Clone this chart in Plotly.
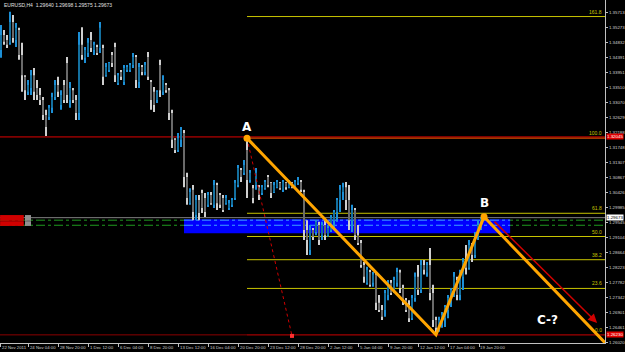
import plotly.graph_objects as go

symbol_text = "EURUSD,H4  1.29640 1.29698 1.29575 1.29673"

opens = [1.3460,1.3504,1.3489,1.3481,1.3542,1.3489,1.3519,1.3445,1.3381,1.3337,
         1.3348,1.3386,1.3348,1.3328,1.3313,1.3269,1.3263,1.3290,1.3322,1.3357,
         1.3298,1.3357,1.3422,1.3313,1.3342,1.3313,1.3275,1.3475,1.3437,1.3451,
         1.3489,1.3460,1.3469,1.3466,1.3466,1.3386,1.3401,1.3445,1.3469,1.3363,
         1.3395,1.3366,1.3401,1.3401,1.3416,1.3439,1.3366,1.3410,1.3395,1.3439,
         1.3366,1.3337,1.3313,1.3416,1.3337,1.3357,1.3342,1.3275,1.3196,1.3166,
         1.3196,1.3216,1.3087,1.3010,1.3049,1.2975,1.3019,1.3040,1.3025,1.3005,
         1.3034,1.3005,1.3063,1.3034,1.3025,1.3010,1.2996,1.3005,1.3025,1.3063,
         1.3107,1.3099,1.3166,1.3078,1.3054,1.3063,1.3057,1.3040,1.3054,1.3087,
         1.3070,1.3043,1.3057,1.3070,1.3049,1.3070,1.3057,1.3070,1.3057,1.3070,
         1.3072,1.3043,1.2931,1.2872,1.2931,1.2925,1.2946,1.2916,1.2946,1.2916,
         1.2931,1.2960,1.2984,1.3019,1.3043,1.3057,1.3019,1.2960,1.2990,1.2916,
         1.2893,1.2828,1.2776,1.2808,1.2776,1.2800,1.2717,1.2696,1.2696,1.2740,
         1.2776,1.2755,1.2776,1.2806,1.2761,1.2725,1.2711,1.2672,1.2731,1.2794,
         1.2755,1.2828,1.2806,1.2828,1.2746,1.2667,1.2637,1.2661,1.2672,1.2696,
         1.2725,1.2755,1.2784,1.2740,1.2794,1.2837,1.2820,1.2887,1.2858,1.2911,
         1.2946,1.29640]
highs = [1.3533,1.3519,1.3504,1.3572,1.3563,1.3539,1.3525,1.3481,1.3386,1.3372,
         1.3401,1.3407,1.3372,1.3348,1.3322,1.3284,1.3298,1.3334,1.3372,1.3381,
         1.3342,1.3372,1.3439,1.3366,1.3348,1.3328,1.3513,1.3527,1.3469,1.3495,
         1.3513,1.3484,1.3475,1.3542,1.3475,1.3422,1.3425,1.3454,1.3481,1.3392,
         1.3401,1.3416,1.3416,1.3422,1.3451,1.3445,1.3422,1.3416,1.3425,1.3454,
         1.3372,1.3351,1.3342,1.3431,1.3386,1.3363,1.3348,1.3284,1.3201,1.3216,
         1.3234,1.3225,1.3099,1.3054,1.3063,1.3034,1.3034,1.3049,1.3040,1.3043,
         1.3043,1.3078,1.3070,1.3040,1.3034,1.3034,1.3019,1.3025,1.3078,1.3122,
         1.3113,1.3137,1.3201,1.3107,1.3063,1.3113,1.3063,1.3063,1.3078,1.3093,
         1.3072,1.3072,1.3078,1.3072,1.3078,1.3072,1.3078,1.3072,1.3078,1.3087,
         1.3078,1.3049,1.2960,1.2946,1.2937,1.2960,1.2955,1.2955,1.2960,1.2946,
         1.2975,1.2990,1.3025,1.3063,1.3070,1.3072,1.3063,1.3005,1.2996,1.2946,
         1.2902,1.2837,1.2823,1.2814,1.2808,1.2806,1.2740,1.2711,1.2755,1.2784,
         1.2784,1.2794,1.2820,1.2814,1.2770,1.2731,1.2725,1.2740,1.2806,1.2828,
         1.2843,1.2843,1.2837,1.2878,1.2770,1.2676,1.2676,1.2690,1.2711,1.2740,
         1.2761,1.2808,1.2794,1.2814,1.2849,1.2887,1.2902,1.2893,1.2925,1.2960,
         1.2969,1.29698]
lows = [1.3437,1.3475,1.3466,1.3475,1.3481,1.3469,1.3431,1.3337,1.3313,1.3328,
        1.3328,1.3313,1.3313,1.3298,1.3254,1.3207,1.3254,1.3275,1.3313,1.3322,
        1.3284,1.3304,1.3304,1.3290,1.3304,1.3254,1.3254,1.3431,1.3422,1.3439,
        1.3454,1.3445,1.3445,1.3451,1.3357,1.3381,1.3395,1.3410,1.3366,1.3357,
        1.3372,1.3357,1.3395,1.3395,1.3407,1.3348,1.3348,1.3386,1.3386,1.3372,
        1.3284,1.3278,1.3304,1.3322,1.3328,1.3334,1.3254,1.3172,1.3157,1.3160,
        1.3175,1.3057,1.3005,1.3005,1.2960,1.2960,1.2960,1.2981,1.2969,1.2999,
        1.3005,1.2996,1.2990,1.2996,1.2984,1.3005,1.2990,1.2999,1.3019,1.3057,
        1.3072,1.3093,1.3025,1.3070,1.3010,1.3049,1.3019,1.3034,1.3049,1.3057,
        1.3025,1.3040,1.3054,1.3049,1.3043,1.3049,1.3054,1.3054,1.3054,1.3063,
        1.3043,1.2902,1.2858,1.2858,1.2902,1.2916,1.2887,1.2902,1.2902,1.2911,
        1.2925,1.2937,1.2955,1.2984,1.3019,1.2990,1.2931,1.2925,1.2902,1.2887,
        1.2820,1.2776,1.2770,1.2764,1.2764,1.2696,1.2690,1.2667,1.2676,1.2725,
        1.2740,1.2746,1.2764,1.2746,1.2711,1.2690,1.2661,1.2667,1.2720,1.2740,
        1.2746,1.2800,1.2794,1.2725,1.2646,1.2623,1.2632,1.2644,1.2646,1.2672,
        1.2705,1.2734,1.2725,1.2725,1.2755,1.2800,1.2814,1.2837,1.2849,1.2902,
        1.2931,1.29575]
closes = [1.3504,1.3484,1.3475,1.3542,1.3495,1.3525,1.3445,1.3386,1.3342,1.3357,
          1.3386,1.3337,1.3328,1.3313,1.3269,1.3234,1.3290,1.3322,1.3357,1.3337,
          1.3328,1.3313,1.3328,1.3348,1.3313,1.3275,1.3475,1.3445,1.3460,1.3481,
          1.3466,1.3475,1.3451,1.3525,1.3381,1.3410,1.3422,1.3422,1.3386,1.3386,
          1.3381,1.3407,1.3410,1.3416,1.3439,1.3372,1.3410,1.3395,1.3416,1.3381,
          1.3313,1.3298,1.3337,1.3342,1.3372,1.3342,1.3275,1.3196,1.3166,1.3201,
          1.3225,1.3087,1.3025,1.3043,1.2984,1.3019,1.2981,1.2996,1.2984,1.3034,
          1.3010,1.3063,1.3010,1.3005,1.2990,1.3025,1.3010,1.3019,1.3070,1.3113,
          1.3087,1.3122,1.3078,1.3099,1.3025,1.3099,1.3034,1.3057,1.3072,1.3063,
          1.3040,1.3063,1.3072,1.3054,1.3072,1.3057,1.3072,1.3057,1.3072,1.3078,
          1.3049,1.2931,1.2902,1.2931,1.2911,1.2955,1.2902,1.2946,1.2916,1.2937,
          1.2967,1.2984,1.3019,1.3049,1.3057,1.3019,1.2960,1.2990,1.2916,1.2893,
          1.2828,1.2794,1.2814,1.2770,1.2800,1.2717,1.2696,1.2676,1.2746,1.2776,
          1.2746,1.2784,1.2808,1.2761,1.2725,1.2696,1.2672,1.2731,1.2794,1.2755,
          1.2828,1.2814,1.2828,1.2746,1.2667,1.2644,1.2667,1.2682,1.2705,1.2731,
          1.2755,1.2794,1.2740,1.2800,1.2837,1.2820,1.2887,1.2858,1.2911,1.2946,
          1.2964,1.29673]

time_labels = ["22 Nov 2011", "24 Nov 04:00", "28 Nov 20:00", "1 Dec 12:00", "6 Dec 04:00",
               "8 Dec 20:00", "13 Dec 12:00", "16 Dec 04:00", "20 Dec 20:00", "23 Dec 12:00",
               "28 Dec 20:00", "2 Jan 12:00", "5 Jan 04:00", "9 Jan 20:00", "12 Jan 12:00",
               "17 Jan 04:00", "19 Jan 20:00"]
time_label_bars = [0, 9.33, 19.33, 29.33, 39.33, 49.33, 59.33, 69.33, 79.33, 89.33,
                   99.33, 109.33, 119.33, 129.33, 139.33, 149.33, 159.33]

price_ticks = [1.26020, 1.26461, 1.26901, 1.27342, 1.27782, 1.28223, 1.28664, 1.29104,
               1.29545, 1.29985, 1.30426, 1.30867, 1.31307, 1.31748, 1.32188, 1.32629,
               1.33070, 1.33510, 1.33951, 1.34391, 1.34832, 1.35273, 1.35713]

fib_ratios = [0.0, 23.6, 38.2, 50.0, 61.8, 100.0, 161.8]
a_idx, low_idx, b_idx = 82, 145, 161
order_levels = [1.2960, 1.2945]
zone_bars = [61, 169.7]
zone_prices = [1.29215, 1.29625]
red_level = 1.32045
arrow_from = (164.0, 1.2960)
arrow_to = (198.7, 1.2658)
dotted_end = (97.0, 1.2620)
c_label_pos = (182.3, 1.2667)

SMALL = "Liberation Sans"
n = len(opens)
idx = list(range(n))
up = [c >= o for o, c in zip(opens, closes)]

UP_WICK, UP_BODY = "#1c8fd6", "#14709f"
DN_WICK, DN_BODY = "#cfcfcf", "#6a6a6a"

fig = go.Figure()
for is_up, wc, bc in [(True, UP_WICK, UP_BODY), (False, DN_WICK, DN_BODY)]:
    sel = [i for i in idx if up[i] == is_up]
    fig.add_trace(go.Bar(
        x=sel, base=[lows[i] for i in sel], y=[highs[i] - lows[i] for i in sel],
        width=0.34, marker=dict(color=wc, line=dict(width=0)), hoverinfo="skip"))
    fig.add_trace(go.Bar(
        x=sel, base=[min(opens[i], closes[i]) for i in sel],
        y=[max(abs(closes[i] - opens[i]), 0.00006) for i in sel],
        width=0.55, marker=dict(color=bc, line=dict(width=0)), hoverinfo="skip"))

hi = highs[a_idx]
lo = lows[low_idx]
shapes = []
for lv in order_levels:
    shapes.append(dict(type="line", xref="paper", x0=0, x1=1, yref="y", y0=lv, y1=lv,
                       line=dict(color="#1f9a1f", width=1, dash="dashdot"), layer="below"))
shapes.append(dict(type="rect", xref="x", x0=zone_bars[0], x1=zone_bars[1], yref="y",
                   y0=zone_prices[0], y1=zone_prices[1], fillcolor="#0000ff",
                   line=dict(width=0), layer="below"))
for lv in order_levels:
    shapes.append(dict(type="line", xref="x", x0=zone_bars[0], x1=zone_bars[1], yref="y", y0=lv, y1=lv,
                       line=dict(color="#3fa0ff", width=1, dash="dashdot"), layer="below"))
shapes.append(dict(type="line", xref="paper", x0=0, x1=1, yref="y", y0=closes[-1], y1=closes[-1],
                   line=dict(color="#808080", width=1), layer="below"))
shapes.append(dict(type="line", xref="paper", x0=0, x1=1, yref="y", y0=red_level, y1=red_level,
                   line=dict(color="#e00000", width=1), layer="below"))
shapes.append(dict(type="line", xref="paper", x0=0, x1=1, yref="y", y0=lo, y1=lo,
                   line=dict(color="#8b0000", width=1), layer="below"))
annotations = []
for r in fib_ratios:
    lv = lo + (hi - lo) * r / 100.0
    col = "#ff5a00" if r == 100.0 else ("#8b0000" if r == 0.0 else "#c8c400")
    shapes.append(dict(type="line", xref="x", x0=a_idx, x1=300, yref="y", y0=lv, y1=lv,
                       line=dict(color=col, width=1), layer="below"))
    annotations.append(dict(xref="paper", x=1, xanchor="right", xshift=-1, yref="y", y=lv,
                            yanchor="bottom", text=f"{r:.1f}", showarrow=False,
                            font=dict(size=5, color="#c8c400", family=SMALL)))
for y0, y1 in [(1.2958, 1.2975), (1.2943, 1.2957)]:
    shapes.append(dict(type="rect", xref="x", x0=-0.3, x1=7.6, yref="y", y0=y0, y1=y1,
                       fillcolor="#d00000", line=dict(width=0)))
    shapes.append(dict(type="rect", xref="x", x0=8.0, x1=10.0, yref="y", y0=y0, y1=y1,
                       fillcolor="#909090", line=dict(width=0)))

fig.update_layout(shapes=shapes)

fig.add_trace(go.Scatter(x=[a_idx, dotted_end[0]], y=[hi, dotted_end[1]], mode="lines",
                         line=dict(color="#d00000", width=1, dash="dot"), hoverinfo="skip"))
fig.add_trace(go.Scatter(x=[dotted_end[0]], y=[dotted_end[1]], mode="markers",
                         marker=dict(color="#ff3030", size=4, symbol="square"), hoverinfo="skip"))

c_x = b_idx + (low_idx - a_idx)
c_y = highs[b_idx] + (lo - hi)
fig.add_trace(go.Scatter(x=[a_idx, low_idx, b_idx, c_x], y=[hi, lo, highs[b_idx], c_y],
                         mode="lines", line=dict(color="#ffa500", width=3), hoverinfo="skip"))
fig.add_trace(go.Scatter(x=[a_idx, b_idx], y=[hi, highs[b_idx]], mode="markers",
                         marker=dict(color="#ffa500", size=7), hoverinfo="skip"))

annotations += [
    dict(x=a_idx, y=hi, xref="x", yref="y", text="<b>A</b>", showarrow=False, yshift=11,
         font=dict(size=12, color="white", family="DejaVu Sans")),
    dict(x=b_idx, y=highs[b_idx], xref="x", yref="y", text="<b>B</b>", showarrow=False, yshift=14,
         font=dict(size=12, color="white", family="DejaVu Sans")),
    dict(x=c_label_pos[0], y=c_label_pos[1], xref="x", yref="y", text="<b>C-?</b>", showarrow=False,
         font=dict(size=12, color="white", family="DejaVu Sans")),
    dict(x=arrow_to[0], y=arrow_to[1], ax=arrow_from[0], ay=arrow_from[1], xref="x", yref="y",
         axref="x", ayref="y", text="", showarrow=True, arrowhead=2, arrowsize=1.2,
         arrowwidth=1.5, arrowcolor="#d00000"),
    dict(xref="paper", yref="paper", x=0.003, y=1, xanchor="left", yanchor="top", text=symbol_text,
         showarrow=False, font=dict(size=5, color="#e0e0e0", family=SMALL)),
]
for price, bg, fg in [(red_level, "#e00000", "white"), (closes[-1], "white", "black"), (lo, "#e00000", "white")]:
    annotations.append(dict(xref="paper", x=1, xanchor="left", xshift=1, yref="y", y=price,
                            yanchor="middle", text=f"{price:.5f}", showarrow=False, bgcolor=bg,
                            borderpad=0, font=dict(size=4.4, color=fg, family=SMALL)))

fig.update_layout(
    width=625, height=352, margin=dict(l=0, r=20, t=0, b=9, autoexpand=False),
    paper_bgcolor="black", plot_bgcolor="black", showlegend=False, barmode="overlay",
    annotations=annotations,
    xaxis=dict(range=[-0.33, 201.33], showgrid=False, zeroline=False, showline=True,
               linecolor="#c0c0c0", linewidth=1, tickmode="array", tickvals=time_label_bars,
               ticktext=time_labels, ticks="outside", ticklen=3, tickcolor="#c0c0c0",
               ticklabelposition="outside right", tickangle=0, automargin=False,
               tickfont=dict(size=4.3, color="#d0d0d0", family=SMALL)),
    yaxis=dict(range=[1.25991, 1.36068], side="right", showgrid=False, zeroline=False,
               showline=True, linecolor="#c0c0c0", linewidth=1, tickmode="array",
               tickvals=price_ticks, ticktext=[f"{v:.5f}" for v in price_ticks],
               ticks="outside", ticklen=2, tickcolor="#c0c0c0", automargin=False,
               tickfont=dict(size=4.4, color="#d0d0d0", family=SMALL)),
)
fig.write_html("out.html")
